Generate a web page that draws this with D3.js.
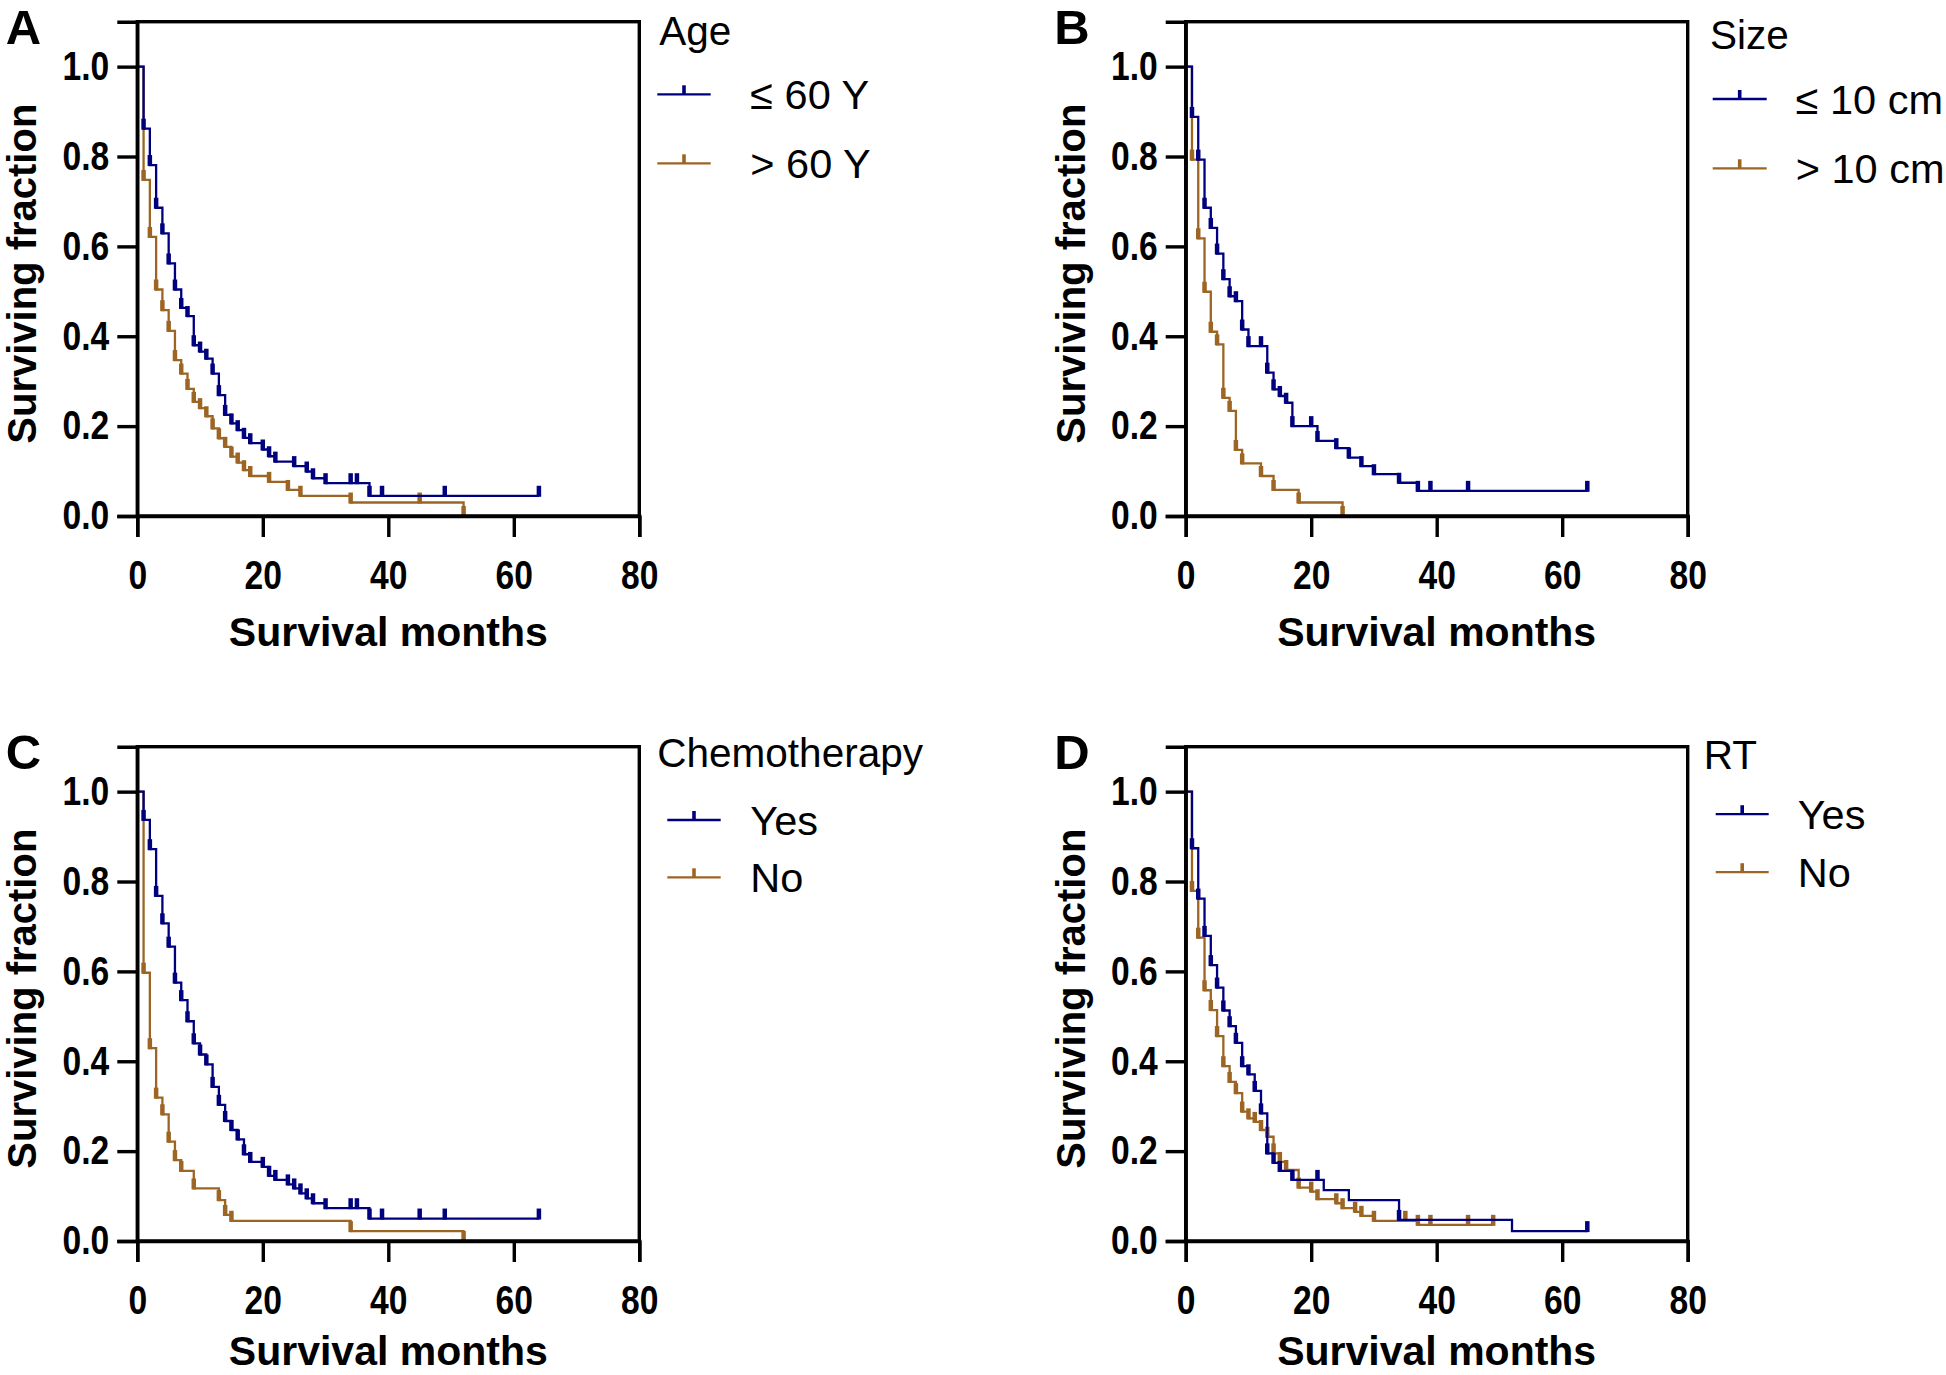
<!DOCTYPE html>
<html>
<head>
<meta charset="utf-8">
<script src="https://cdn.jsdelivr.net/npm/d3@7"></script>
<style>
html,body{margin:0;padding:0;background:#fff;}
svg text{font-family:"Liberation Sans",Arial,Helvetica,sans-serif;}
</style>
</head>
<body>
<svg id="chart" width="1946" height="1375"></svg>
<script>
// ---------- data ----------
const panelLetters = ["A", "B", "C", "D"];
const legendTitles = ["Age", "Size", "Chemotherapy", "RT"];
const seriesNames = [["≤ 60 Y", "> 60 Y"], ["≤ 10 cm", "> 10 cm"], ["Yes", "No"], ["Yes", "No"]];
const xTicks = [0, 20, 40, 60, 80];
const yTicks = [0, 0.2, 0.4, 0.6, 0.8, 1.0];
const xTitle = "Survival months";
const yTitle = "Surviving fraction";

// Panel A : Age
const ageLowTimes = [0,1,2,3,4,5,6,7,8,9,10,11,12,13,14,15,16,17,18,20,21,22,25,27,28,30,37,64];
const ageLowSurv  = [1,0.862,0.781,0.686,0.629,0.562,0.504,0.463,0.445,0.380,0.366,0.350,0.317,0.269,0.225,0.206,0.191,0.174,0.162,0.148,0.133,0.121,0.111,0.099,0.084,0.073,0.045,0.045];
const ageLowCens  = [1,2,3,4,5,6,7,8,9,10,11,12,13,14,15,16,17,18,20,21,22,25,27,28,30,34,35,37,39,49,64];
const ageHighTimes = [0,1,2,3,4,5,6,7,8,9,10,11,12,13,14,15,16,17,18,21,24,26,34,52];
const ageHighSurv  = [1,0.748,0.621,0.504,0.458,0.412,0.347,0.317,0.283,0.254,0.240,0.222,0.195,0.173,0.154,0.132,0.119,0.102,0.089,0.076,0.058,0.045,0.030,0];
const ageHighCens  = [1,2,3,4,5,6,7,8,9,10,11,12,13,14,15,16,17,18,21,24,26,34,45,52];

// Panel B : Size
const sizeLowTimes = [0,1,2,3,4,5,6,7,8,9,10,13,14,15,16,17,21,24,26,28,30,34,37,64];
const sizeLowSurv  = [1,0.888,0.793,0.686,0.641,0.584,0.527,0.489,0.478,0.415,0.378,0.319,0.282,0.267,0.252,0.200,0.167,0.151,0.130,0.111,0.093,0.074,0.056,0.056];
const sizeLowCens  = [1,2,3,4,5,6,7,8,9,10,12,13,14,15,16,17,20,21,24,26,28,30,34,37,39,45,64];
const sizeHighTimes = [0,1,2,3,4,5,6,7,8,9,12,14,18,25];
const sizeHighSurv  = [1,0.793,0.618,0.499,0.410,0.382,0.263,0.234,0.147,0.117,0.089,0.058,0.030,0];
const sizeHighCens  = [1,2,3,4,5,6,7,8,9,12,14,18,25];

// Panel C : Chemotherapy
const chemoYesTimes = [0,1,2,3,4,5,6,7,8,9,10,11,12,13,14,15,16,17,18,20,21,22,24,25,26,27,28,30,37,64];
const chemoYesSurv  = [1,0.937,0.872,0.768,0.707,0.655,0.575,0.536,0.489,0.440,0.415,0.393,0.343,0.303,0.267,0.247,0.226,0.193,0.176,0.165,0.145,0.136,0.126,0.117,0.106,0.095,0.084,0.073,0.050,0.050];
const chemoYesCens  = [1,2,3,4,5,6,7,8,9,10,11,12,13,14,15,16,17,18,20,21,22,24,25,26,27,28,30,34,35,37,39,45,49,64];
const chemoNoTimes = [0,1,2,3,4,5,6,7,9,13,14,15,34,52];
const chemoNoSurv  = [1,0.597,0.429,0.319,0.282,0.221,0.180,0.156,0.117,0.091,0.058,0.045,0.022,0];
const chemoNoCens  = [1,2,3,4,5,6,7,9,13,14,15,34,52];

// Panel D : RT
const rtYesTimes = [0,1,2,3,4,5,6,7,8,9,10,11,12,13,14,15,17,22,26,34,52,64];
const rtYesSurv  = [1,0.874,0.762,0.679,0.614,0.564,0.513,0.478,0.441,0.389,0.371,0.334,0.284,0.195,0.174,0.156,0.136,0.113,0.091,0.047,0.022,0.022];
const rtYesCens  = [1,2,3,4,5,6,7,8,9,10,11,12,13,14,15,17,21,34,64];
const rtNoTimes = [0,1,2,3,4,5,6,7,8,9,10,11,12,13,14,15,16,18,20,21,24,25,27,28,30,37,49];
const rtNoSurv  = [1,0.779,0.675,0.558,0.514,0.456,0.389,0.354,0.329,0.288,0.273,0.265,0.247,0.232,0.195,0.176,0.158,0.119,0.110,0.093,0.084,0.073,0.065,0.056,0.045,0.036,0.036];
const rtNoCens  = [1,2,3,4,5,6,7,8,9,10,11,12,13,14,15,16,18,20,21,24,25,27,28,30,35,37,39,45,49];

const colors = ["#00007f", "#9c6524"];

const panelCurves = [
  [[ageLowTimes, ageLowSurv, ageLowCens], [ageHighTimes, ageHighSurv, ageHighCens]],
  [[sizeLowTimes, sizeLowSurv, sizeLowCens], [sizeHighTimes, sizeHighSurv, sizeHighCens]],
  [[chemoYesTimes, chemoYesSurv, chemoYesCens], [chemoNoTimes, chemoNoSurv, chemoNoCens]],
  [[rtYesTimes, rtYesSurv, rtYesCens], [rtNoTimes, rtNoSurv, rtNoCens]]
];

// ---------- layout ----------
const W = 502, H = 494.3;
const origins = [[137.3, 21.7], [1185.7, 21.7], [137.3, 746.7], [1185.7, 746.7]];
// legend layout per panel: [titleX, titleY, lineX0, lineX1, line1Y, line2Y, textX]
const legendLayout = [
  [522, 23.3, 520, 573.4, 72.6, 141.6, 613],
  [524.3, 27.3, 527, 581, 77.3, 146.6, 610],
  [520, 20, 530, 583.4, 73.3, 130.6, 613],
  [518, 22.5, 530, 583, 67.5, 125.5, 612]
];

const svg = d3.select("#chart");
svg.append("rect").attr("width", 1946).attr("height", 1375).attr("fill", "#fff");

const x = d3.scaleLinear().domain([0, 80]).range([0, W]);
const y = d3.scaleLinear().domain([0, 1.1]).range([H, 0]);

const line = d3.line().x(d => x(d[0])).y(d => y(d[1])).curve(d3.curveStepAfter);

function survAt(times, surv, t) {
  let s = surv[0];
  for (let i = 0; i < times.length; i++) if (times[i] <= t) s = surv[i];
  return s;
}

panelLetters.forEach((letter, p) => {
  const [ox, oy] = origins[p];
  const g = svg.append("g").attr("transform", `translate(${ox},${oy})`);

  // curves (draw second series first so first lies on top)
  [1, 0].forEach(si => {
    const [times, surv, cens] = panelCurves[p][si];
    const pts = times.map((t, i) => [t, surv[i]]);
    g.append("path").attr("d", line(pts)).attr("fill", "none")
      .attr("stroke", colors[si]).attr("stroke-width", 2.3);
    g.selectAll(null).data(cens).enter().append("line")
      .attr("x1", d => x(d)).attr("x2", d => x(d))
      .attr("y1", d => y(survAt(times, surv, d)) + 1)
      .attr("y2", d => y(survAt(times, surv, d)) - 10)
      .attr("stroke", colors[si]).attr("stroke-width", 4.5);
  });

  // frame
  g.append("rect").attr("x", 0).attr("y", 0).attr("width", W).attr("height", H)
    .attr("fill", "none").attr("stroke", "#000").attr("stroke-width", 3.4);

  // axes
  const ya = g.append("g").call(d3.axisLeft(y).tickValues(yTicks).tickFormat(d3.format(".1f")).tickSize(20).tickPadding(8));
  const xa = g.append("g").attr("transform", `translate(0,${H})`)
    .call(d3.axisBottom(x).tickValues(xTicks).tickSize(21).tickPadding(24));
  [ya, xa].forEach(a => {
    a.select(".domain").attr("stroke-width", 3.4);
    a.selectAll(".tick line").attr("stroke-width", 3.4);
    a.selectAll(".tick text").attr("font-size", 40).attr("font-weight", "bold")
      .attr("font-family", '"Liberation Sans",Arial,sans-serif').attr("fill", "#000")
      .each(function () {
        const w = this.getComputedTextLength();
        d3.select(this).attr("textLength", w * 0.84).attr("lengthAdjust", "spacingAndGlyphs");
      });
  });

  // axis titles
  const titleY = Math.min(624, 1375 - 9.5 - oy);
  g.append("text").attr("x", W / 2).attr("y", titleY).attr("text-anchor", "middle")
    .attr("font-size", 41).attr("font-weight", "bold").text(xTitle);
  g.append("text").attr("transform", `translate(-101,${252}) rotate(-90)`).attr("text-anchor", "middle")
    .attr("font-size", 40).attr("font-weight", "bold").text(yTitle);

  // panel letter
  g.append("text").attr("x", -131.5).attr("y", 22.3).attr("font-size", 49).attr("font-weight", "bold").text(letter);

  // legend
  const L = legendLayout[p];
  g.append("text").attr("x", L[0]).attr("y", L[1]).attr("font-size", 40.5).text(legendTitles[p]);
  [0, 1].forEach(si => {
    const ly = si === 0 ? L[4] : L[5];
    g.append("line").attr("x1", L[2]).attr("x2", L[3]).attr("y1", ly).attr("y2", ly)
      .attr("stroke", colors[si]).attr("stroke-width", 2.3);
    const mx = (L[2] + L[3]) / 2;
    g.append("line").attr("x1", mx).attr("x2", mx).attr("y1", ly).attr("y2", ly - 9)
      .attr("stroke", colors[si]).attr("stroke-width", 3.6);
    g.append("text").attr("x", L[6]).attr("y", ly + 15).attr("font-size", 41.5).text(seriesNames[p][si]);
  });
});
</script>
</body>
</html>
